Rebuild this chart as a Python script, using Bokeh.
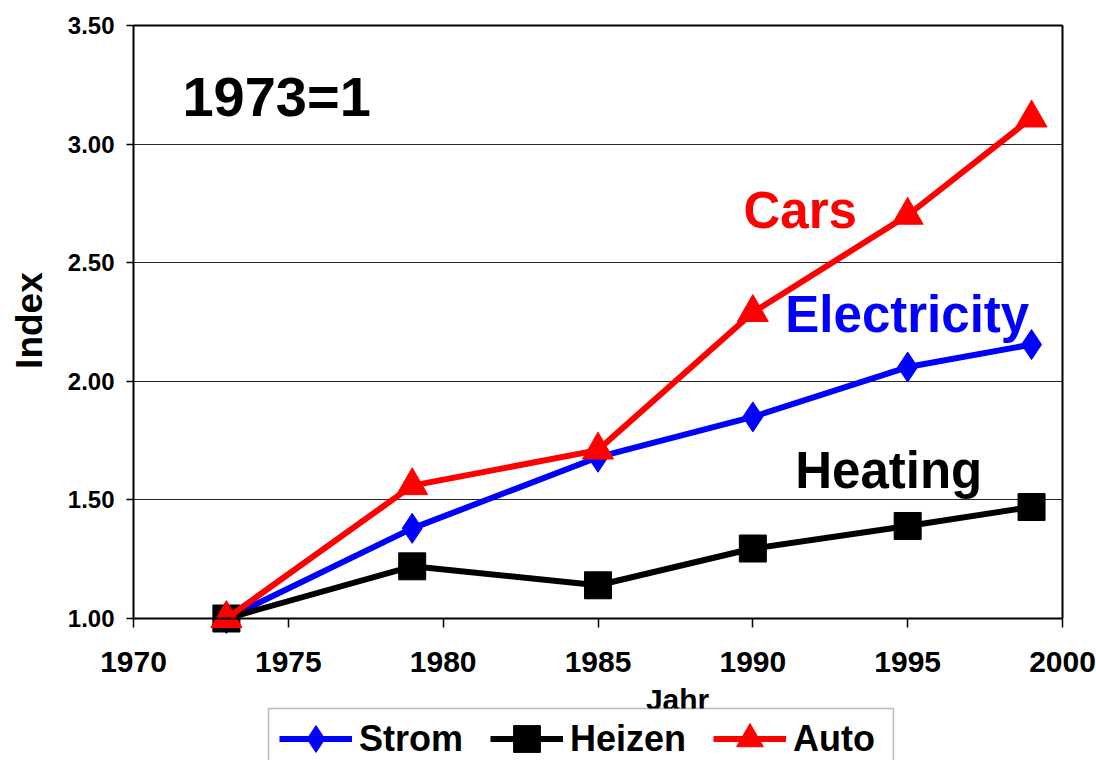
import math
from bokeh.plotting import figure
from bokeh.models import (Range1d, SingleIntervalTicker, FixedTicker, NumeralTickFormatter, Label,
                          Legend, LegendItem, ColumnDataSource, BoxAnnotation, LinearAxis)
from bokeh.embed import file_html
from bokeh.resources import INLINE

years = [1973, 1979, 1985, 1990, 1995, 1999]
strom = [1.00, 1.38, 1.68, 1.85, 2.06, 2.155]
heizen = [1.00, 1.22, 1.14, 1.295, 1.39, 1.47]
auto = [1.00, 1.56, 1.71, 2.29, 2.70, 3.11]
series_names = ["Strom", "Heizen", "Auto"]
y_ticks = [1.0, 1.5, 2.0, 2.5, 3.0, 3.5]
x_ticks_interval = 5

FONT = "Liberation Sans"

X0, X1 = 1970, 2000
Y0, Y1 = 1.0, 3.5
# the frame covers the whole canvas; axes are pinned to the plot-area edges
XPX = 929 / (X1 - X0)
YPX = 593 / (Y1 - Y0)
x_range = Range1d(X0 - 133 / XPX, X1 + 34 / XPX)
y_range = Range1d(Y0 - 142 / YPX, Y1 + 25 / YPX)

p = figure(width=1096, height=760, output_backend="svg", toolbar_location=None,
           x_range=x_range, y_range=y_range,
           min_border_left=0, min_border_right=0, min_border_top=0, min_border_bottom=0)
p.background_fill_color = "white"
p.border_fill_color = "white"
p.outline_line_color = None

p.xgrid.grid_line_color = None
p.ygrid.grid_line_color = "black"
p.ygrid.grid_line_width = 1
p.ygrid.grid_line_alpha = 0.85
try:
    p.ygrid.cross_bounds = (X0, X1)
except AttributeError:
    p.ygrid.visible = False
    p.yaxis.major_tick_in = 929

p.xaxis.ticker = SingleIntervalTicker(interval=x_ticks_interval)
p.xaxis.fixed_location = Y0
p.xaxis.bounds = (X0, X1)
p.yaxis.ticker = FixedTicker(ticks=y_ticks)
p.yaxis.fixed_location = X0
p.yaxis.bounds = (Y0, Y1)
p.yaxis.formatter = NumeralTickFormatter(format="0.00")
for ax in (p.xaxis, p.yaxis):
    ax.axis_line_width = 2
    ax.axis_line_color = "black"
    ax.major_tick_line_color = "black"
    ax.major_tick_line_width = 1.5
    ax.minor_tick_line_color = None
    ax.major_label_text_font = FONT
    ax.major_label_text_font_style = "bold"
    ax.major_label_text_color = "black"
p.xaxis.major_tick_in = 0
p.xaxis.major_tick_out = 9
p.xaxis.major_label_standoff = 24
p.xaxis.major_label_text_font_size = "30px"
if p.yaxis.major_tick_in != 929:
    p.yaxis[0].major_tick_in = 0
p.yaxis.major_tick_out = 7
p.yaxis.major_label_standoff = 12
p.yaxis.major_label_text_font_size = "24px"

# right and top border lines of the plot area
right_ax = LinearAxis(bounds=(Y0, Y1), fixed_location=X1, ticker=FixedTicker(ticks=[]),
                      axis_line_width=2, axis_line_color="black", major_label_text_font_size="0px",
                      major_tick_line_color=None, minor_tick_line_color=None)
p.add_layout(right_ax, "right")
top_ax = LinearAxis(bounds=(X0, X1), fixed_location=Y1, ticker=FixedTicker(ticks=[]),
                    axis_line_width=2, axis_line_color="black", major_label_text_font_size="0px",
                    major_tick_line_color=None, minor_tick_line_color=None)
p.add_layout(top_ax, "above")

src = ColumnDataSource(dict(x=years, strom=strom, heizen=heizen, auto=auto))

l1 = p.line("x", "strom", source=src, line_color="#0000FF", line_width=6)
m1 = p.scatter("x", "strom", source=src, marker="diamond", size=30, fill_color="#0000FF", line_color="#0000FF")
l2 = p.line("x", "heizen", source=src, line_color="black", line_width=6)
m2 = p.scatter("x", "heizen", source=src, marker="square", size=27, fill_color="black", line_color="black")
l3 = p.line("x", "auto", source=src, line_color="#FF0000", line_width=6)
m3 = p.scatter("x", "auto", source=src, marker="triangle", size=31, fill_color="#FF0000", line_color="#FF0000")

def lab(text, x, y, color, size, align="left", angle=0.0):
    p.add_layout(Label(x=x, y=y, text=text, text_color=color, text_font=FONT,
                       text_font_style="bold", text_font_size=size, text_baseline="middle",
                       text_align=align, angle=angle))

lab("1973=1", 1971.58, 3.199, "black", "56px")
lab("Cars", 1989.70, 2.720, "#FF0000", "51px")
lab("Electricity", 1991.05, 2.280, "#0000FF", "51px")
lab("Heating", 1991.37, 1.624, "black", "51px")
lab("Index", 1966.64, 2.256, "black", "37px", align="center", angle=math.pi / 2)
lab("Jahr", 1987.57, 0.660, "black", "30px", align="center")

# legend frame
p.add_layout(BoxAnnotation(left=1974.36, right=1994.54, top=0.6206, bottom=0.30,
                           fill_color="white", fill_alpha=1.0, line_color="#222222", line_width=1.5))

legend = Legend(items=[LegendItem(label=series_names[0], renderers=[l1, m1]),
                       LegendItem(label=series_names[1], renderers=[l2, m2]),
                       LegendItem(label=series_names[2], renderers=[l3, m3])],
                orientation="horizontal", location=(279, -12), padding=0, margin=0,
                glyph_width=73, glyph_height=67, label_height=67, label_standoff=7, spacing=27,
                label_text_font=FONT, label_text_font_style="bold", label_text_font_size="36px",
                label_text_color="black", border_line_color=None, background_fill_alpha=0.0)
p.add_layout(legend, "center")

open("out.html", "w").write(file_html(p, INLINE))
